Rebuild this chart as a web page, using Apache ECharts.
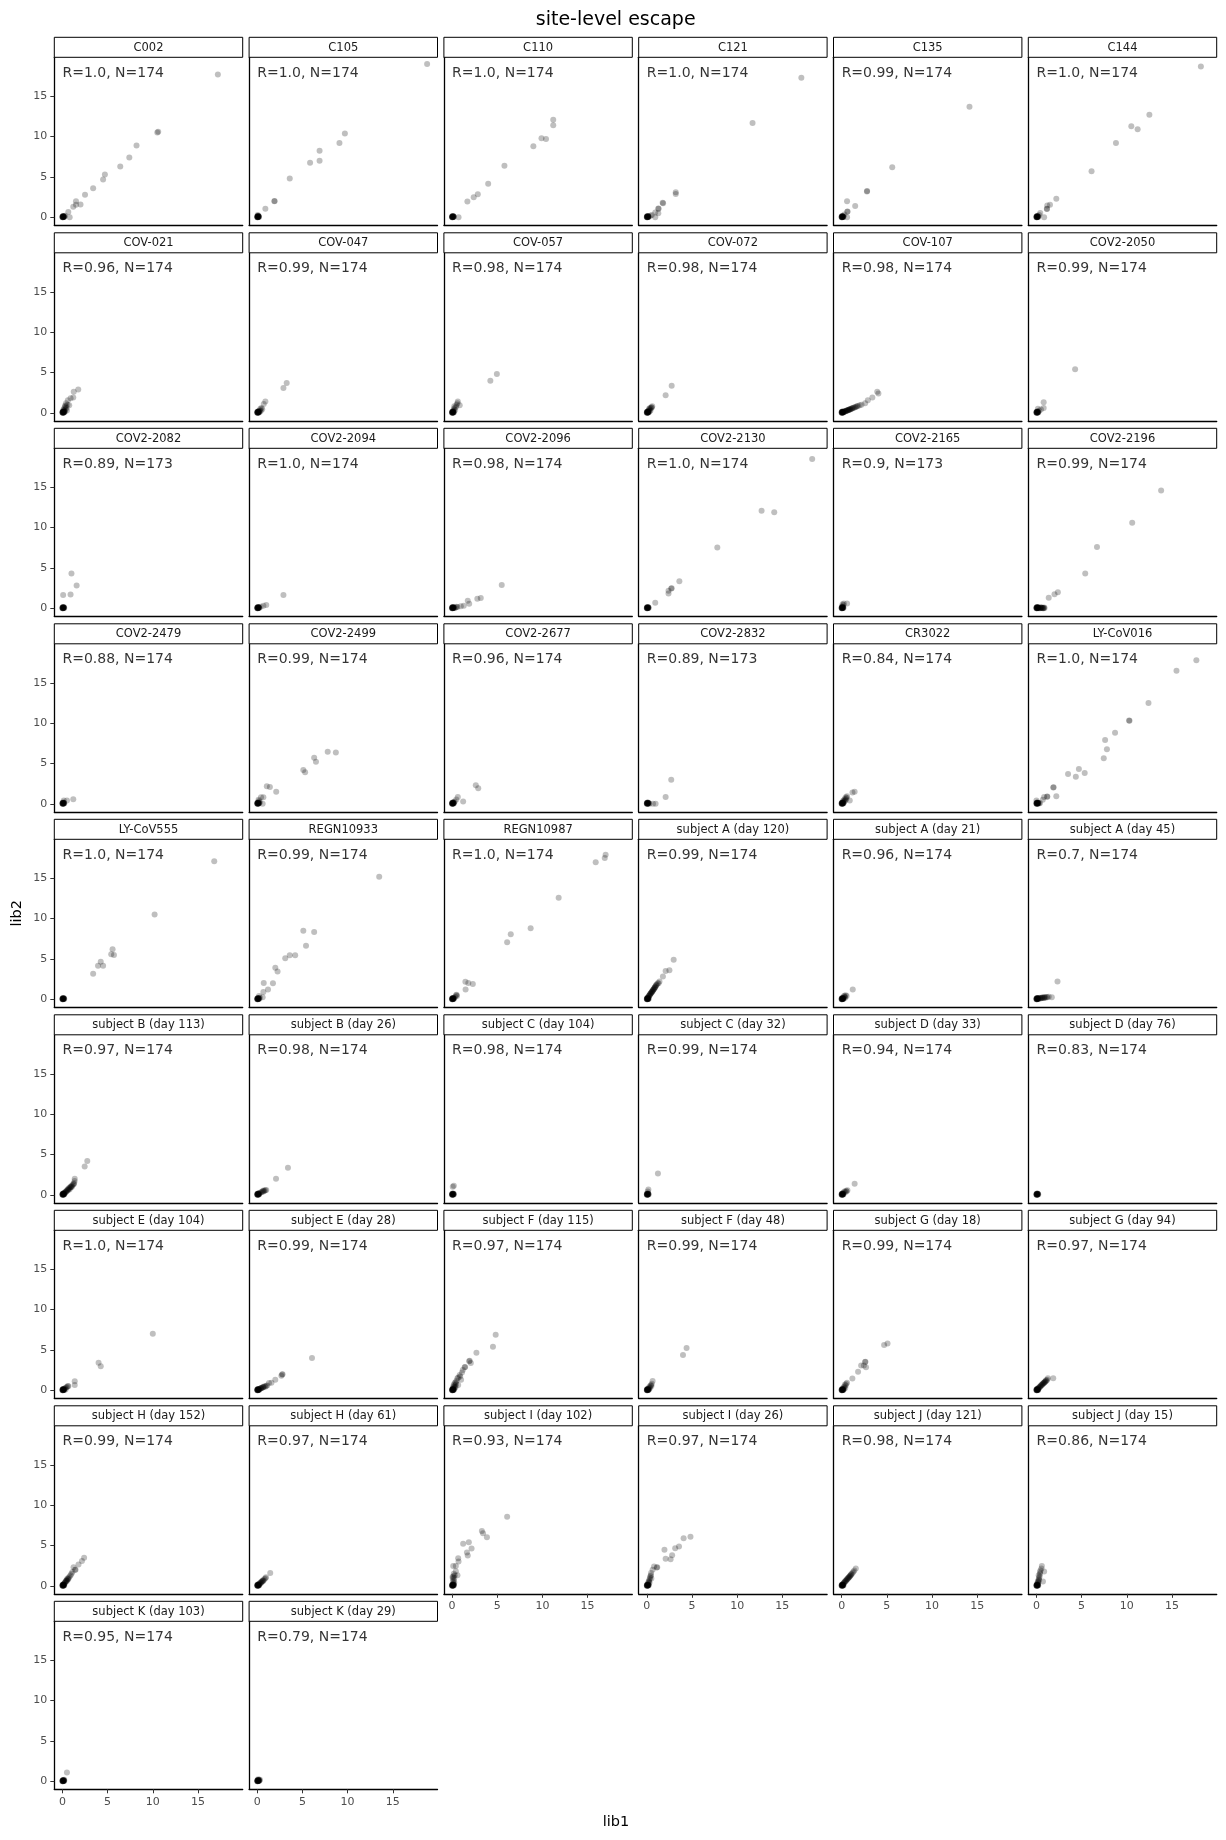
<!DOCTYPE html>
<html>
<head>
<meta charset="utf-8">
<script src="https://cdn.jsdelivr.net/npm/echarts@6/dist/echarts.min.js"></script>
<style>html,body{margin:0;padding:0;background:#fff}#chart{width:1226px;height:1840px}</style>
</head>
<body>
<div id="chart"></div>
<script>
// ---------- data ----------
const panelNames = [
 'C002','C105','C110','C121','C135','C144',
 'COV-021','COV-047','COV-057','COV-072','COV-107','COV2-2050',
 'COV2-2082','COV2-2094','COV2-2096','COV2-2130','COV2-2165','COV2-2196',
 'COV2-2479','COV2-2499','COV2-2677','COV2-2832','CR3022','LY-CoV016',
 'LY-CoV555','REGN10933','REGN10987','subject A (day 120)','subject A (day 21)','subject A (day 45)',
 'subject B (day 113)','subject B (day 26)','subject C (day 104)','subject C (day 32)','subject D (day 33)','subject D (day 76)',
 'subject E (day 104)','subject E (day 28)','subject F (day 115)','subject F (day 48)','subject G (day 18)','subject G (day 94)',
 'subject H (day 152)','subject H (day 61)','subject I (day 102)','subject I (day 26)','subject J (day 121)','subject J (day 15)',
 'subject K (day 103)','subject K (day 29)'
];
const rValues = [
 '1.0','1.0','1.0','1.0','0.99','1.0',
 '0.96','0.99','0.98','0.98','0.98','0.99',
 '0.89','1.0','0.98','1.0','0.9','0.99',
 '0.88','0.99','0.96','0.89','0.84','1.0',
 '1.0','0.99','1.0','0.99','0.96','0.7',
 '0.97','0.98','0.98','0.99','0.94','0.83',
 '1.0','0.99','0.97','0.99','0.99','0.97',
 '0.99','0.97','0.93','0.97','0.98','0.86',
 '0.95','0.79'
];
const nValues = [
 174,174,174,174,174,174,
 174,174,174,174,174,174,
 173,174,174,174,173,174,
 174,174,174,173,174,174,
 174,174,174,174,174,174,
 174,174,174,174,174,174,
 174,174,174,174,174,174,
 174,174,174,174,174,174,
 174,174
];
const xTicks = [0,5,10,15];
const yTicks = [0,5,10,15];

// sites with near-zero escape in both libraries (shared dense cluster at origin)
const originCluster = [[0,0],[0.03,0.02],[0.06,0.05],[0.1,0.03],[0.12,0.08],[0.04,0.09],[0.08,0.12],[0.15,0.06],[0.02,0.14],[0.1,0.15],[0.14,0.13],[0,0.06],[0.07,0],[0.05,0.05],[0.18,0.1],[0.2,0.04]];

const p_C002 = [[17.2,17.7],[10.6,10.6],[10.5,10.5],[8.2,8.9],[7.4,7.4],[6.4,6.3],[4.7,5.3],[4.5,4.7],[3.4,3.6],[2.5,2.8],[1.5,2.0],[2.0,1.6],[1.2,1.3],[1.5,1.55],[0.65,0.66],[0.8,0.0],[0.3,0.2]];
const p_C105 = [[18.8,19.0],[9.7,10.4],[9.1,9.2],[6.9,8.25],[6.9,7.0],[5.85,6.75],[3.6,4.8],[1.9,2.0],[1.92,2.02],[0.9,1.05],[0.05,0.28],[0.1,0.2]];
const p_C110 = [[11.2,12.1],[11.2,11.4],[9.9,9.8],[10.4,9.7],[9.0,8.8],[5.8,6.4],[4.0,4.15],[2.85,2.85],[2.4,2.5],[1.7,1.95],[0.72,0.0]];
const p_C121 = [[17.1,17.3],[11.7,11.7],[3.2,3.1],[3.2,2.9],[1.8,1.75],[1.75,1.8],[1.27,1.1],[1.3,1.05],[0.93,0.6],[1.27,0.5],[0.93,0.0],[0.55,0.3],[0.4,0.2]];
const p_C135 = [[14.15,13.7],[5.6,6.2],[2.8,3.2],[2.82,3.25],[1.5,1.4],[0.6,2.0],[0.63,0.7],[0.65,0.72],[0.3,0.35],[0.6,0.0]];
const p_C144 = [[18.2,18.7],[12.5,12.7],[10.5,11.3],[11.2,10.9],[8.8,9.2],[6.1,5.7],[2.2,2.3],[1.5,1.55],[1.2,1.45],[1.15,1.05],[1.17,1.02],[0.42,0.52],[0.85,0.0],[0.3,0.3]];
const p_COV021 = [[1.75,2.9],[1.25,2.6],[1.2,1.9],[0.9,1.8],[0.6,1.55],[0.75,0.95],[0.4,1.2],[0.3,0.9],[0.25,0.7],[0.45,0.6],[0.35,0.4],[0.2,0.5],[0.15,0.3],[0.3,0.2],[0.5,0.3],[0.2,0.15],[0.1,0.35],[0.4,0.8],[0.55,1.0]];
const p_COV047 = [[3.26,3.68],[2.9,3.07],[0.9,1.4],[0.72,1.08],[0.47,0.6],[0.55,0.45],[0.35,0.5],[0.25,0.3],[0.4,0.25],[0.15,0.2],[0.3,0.15]];
const p_COV057 = [[4.96,4.8],[4.24,3.96],[0.64,1.4],[0.85,0.95],[0.5,1.0],[0.45,0.75],[0.3,0.6],[0.2,0.45],[0.35,0.35],[0.15,0.25],[0.6,1.2],[0.25,0.8]];
const p_COV072 = [[2.75,3.35],[2.08,2.17],[0.6,0.8],[0.5,0.7],[0.45,0.55],[0.35,0.6],[0.3,0.4],[0.25,0.5],[0.2,0.3],[0.4,0.3],[0.15,0.2],[0.55,0.65],[0.3,0.2]];
const p_COV107 = [[4.07,2.4],[3.94,2.6],[3.4,1.9],[2.9,1.55],[2.6,1.2],[2.0,0.94],[2.2,1.0],[1.8,0.85],[1.6,0.75],[1.5,0.7],[1.3,0.62],[1.2,0.58],[1.1,0.5],[1.0,0.45],[0.9,0.42],[0.8,0.38],[0.7,0.33],[0.6,0.3],[0.5,0.25],[0.45,0.2],[0.35,0.18],[0.3,0.15],[0.25,0.1],[1.7,0.8],[1.4,0.66],[0.95,0.48],[0.75,0.35],[0.55,0.28],[1.15,0.55],[0.85,0.4],[0.65,0.3],[0.4,0.2]];
const p_COV2050 = [[4.28,5.4],[0.8,1.3],[0.8,0.6],[0.17,0.5],[0.3,0.25],[0.5,0.4]];
const p_COV2082 = [[1.0,4.3],[1.57,2.83],[0.9,1.7],[0.08,1.65]];
const p_COV2094 = [[2.9,1.65],[1.0,0.42],[0.68,0.33],[0.38,0.19],[0.2,0.1]];
const p_COV2096 = [[5.5,2.88],[3.18,1.27],[2.8,1.18],[1.74,0.94],[1.9,0.57],[1.3,0.33],[0.97,0.24],[0.6,0.15],[0.4,0.1],[0.3,0.05],[0.5,0.2]];
const p_COV2130 = [[18.3,18.5],[12.7,12.1],[14.1,11.9],[7.8,7.55],[3.6,3.35],[2.7,2.45],[2.75,2.5],[2.4,2.17],[2.4,1.84],[0.93,0.7]];
const p_COV2165 = [[0.6,0.6],[0.25,0.6],[0.08,0.24],[0.2,0.4],[0.1,0.5]];
const p_COV2196 = [[13.8,14.6],[10.6,10.6],[6.7,7.6],[5.4,4.3],[2.37,2.0],[2.0,1.75],[1.36,1.32],[0.9,0.05],[0.7,0.0],[0.5,0.1],[0.35,0.05],[0.6,0.1],[0.8,0.0],[0.25,0.0],[0.4,0.0],[0.55,0.05],[0.75,0.05],[0.2,0.1],[0.45,0.1],[0.65,0.05],[0.85,0.1]];
const p_COV2479 = [[1.2,0.57],[0.5,0.42],[0.15,0.42]];
const p_COV2499 = [[8.7,6.37],[7.8,6.46],[6.3,5.7],[6.5,5.2],[5.1,4.2],[5.3,3.9],[1.06,2.17],[1.4,2.07],[2.1,1.5],[0.68,0.8],[0.42,0.8],[0.6,0.0],[0.2,0.35],[0.3,0.2],[0.15,0.5]];
const p_COV2677 = [[2.63,2.3],[2.9,1.93],[0.64,0.85],[0.47,0.52],[1.23,0.28],[0.3,0.3],[0.2,0.2]];
const p_COV2832 = [[2.7,2.97],[2.08,0.85],[0.97,0.0],[0.68,0.0],[0.3,0.0]];
const p_CR3022 = [[1.44,1.5],[1.2,1.4],[0.9,0.42],[0.6,0.94],[0.45,0.8],[0.35,0.6],[0.5,0.55],[0.25,0.45],[0.3,0.3],[0.15,0.35],[0.4,0.4],[0.2,0.2],[0.55,0.75]];
const p_LYCoV016 = [[17.7,17.8],[15.5,16.5],[12.4,12.5],[10.25,10.33],[10.3,10.3],[8.7,8.8],[7.6,7.9],[7.8,6.75],[7.45,5.66],[5.34,3.82],[4.7,4.3],[4.36,3.35],[3.5,3.7],[1.86,2.03],[1.9,2.05],[2.2,0.94],[1.19,0.9],[1.2,0.88],[0.85,0.85],[0.7,0.5],[0.0,0.4],[0.4,0.1],[0.3,0.05],[0.2,0.1]];
const p_LYCoV555 = [[16.8,17.1],[10.2,10.5],[5.55,6.2],[5.7,5.5],[5.4,5.57],[4.24,4.67],[3.94,4.15],[4.5,4.15],[3.4,3.16]];
const p_REGN10933 = [[13.5,15.2],[5.1,8.5],[6.3,8.35],[5.4,6.65],[3.1,5.1],[3.6,5.47],[4.2,5.47],[2.0,3.9],[2.25,3.44],[0.72,2.03],[1.74,1.98],[1.19,1.23],[0.68,0.9],[0.6,0.24],[0.2,0.4],[0.3,0.2]];
const p_REGN10987 = [[17.0,17.9],[16.9,17.5],[15.9,17.0],[11.8,12.6],[8.7,8.8],[6.5,8.07],[6.1,7.08],[1.48,2.17],[1.8,2.03],[2.3,1.9],[1.5,1.23],[0.5,0.57],[0.45,0.5],[0.35,0.3],[0.2,0.2],[0.55,0.4]];
const p_A120 = [[2.97,4.9],[2.5,3.6],[2.08,3.5],[1.78,2.83],[1.3,1.98],[1.1,1.84],[1.0,1.7],[0.95,1.55],[0.9,1.5],[0.85,1.4],[0.8,1.3],[0.75,1.25],[0.7,1.15],[0.65,1.05],[0.6,1.0],[0.55,0.9],[0.5,0.85],[0.45,0.75],[0.4,0.7],[0.35,0.6],[0.3,0.5],[0.25,0.45],[0.2,0.35],[0.15,0.25],[0.1,0.2],[1.05,1.75],[0.88,1.45],[0.72,1.2],[0.58,0.95],[0.42,0.72],[0.28,0.48],[1.2,2.0],[1.4,2.2]];
const p_A21 = [[1.23,1.23],[0.55,0.42],[0.45,0.5],[0.35,0.3],[0.25,0.35],[0.4,0.2],[0.2,0.15],[0.3,0.45]];
const p_A45 = [[2.33,2.2],[1.7,0.24],[1.36,0.33],[1.2,0.25],[1.0,0.2],[0.9,0.3],[0.8,0.15],[0.7,0.25],[0.6,0.2],[0.5,0.15],[0.4,0.2],[0.3,0.1],[0.2,0.15],[1.1,0.3],[0.85,0.2],[0.65,0.15],[0.45,0.1]];
const p_B113 = [[2.75,4.2],[2.46,3.5],[1.36,2.0],[1.3,1.46],[1.35,1.7],[1.2,1.35],[1.1,1.2],[1.0,1.1],[0.9,1.0],[0.85,0.9],[0.75,0.85],[0.7,0.75],[0.6,0.7],[0.55,0.6],[0.5,0.5],[0.4,0.45],[0.35,0.35],[0.3,0.3],[0.2,0.25],[0.15,0.15],[1.25,1.3],[0.95,0.95],[0.65,0.6],[0.45,0.4],[0.8,0.7],[1.05,1.0],[0.25,0.2]];
const p_B26 = [[3.4,3.35],[2.08,1.98],[0.68,0.52],[0.9,0.55],[1.0,0.6],[0.8,0.5],[0.6,0.45],[0.5,0.35],[0.4,0.3],[0.3,0.25],[0.2,0.15],[0.7,0.4]];
const p_C104 = [[0.2,1.13],[0.08,1.0]];
const p_C32 = [[1.23,2.64],[0.17,0.66],[0.1,0.4]];
const p_D33 = [[1.44,1.37],[0.64,0.57],[0.5,0.5],[0.4,0.35],[0.3,0.4],[0.2,0.25],[0.55,0.4]];
const p_D76 = [];
const p_E104 = [[10.0,7.0],[4.0,3.43],[4.24,2.98],[1.36,1.12],[1.36,0.66],[0.6,0.54],[0.65,0.5],[0.5,0.4],[0.4,0.35],[0.3,0.25],[0.2,0.2],[0.35,0.1]];
const p_E28 = [[6.06,4.0],[2.8,2.0],[2.75,1.95],[2.67,1.82],[2.0,1.32],[1.57,0.95],[1.3,0.9],[0.9,0.45],[1.1,0.6],[0.8,0.5],[0.7,0.4],[0.6,0.35],[0.5,0.3],[0.4,0.25],[0.3,0.2],[0.2,0.12],[1.0,0.55],[0.65,0.42],[0.45,0.28],[0.35,0.22]];
const p_F115 = [[4.83,6.9],[4.53,5.4],[2.7,4.67],[1.9,3.6],[1.95,3.65],[2.08,3.39],[1.4,2.85],[1.45,2.9],[1.19,2.52],[0.85,1.9],[1.0,1.32],[0.68,0.66],[0.5,1.2],[0.4,1.0],[0.45,0.8],[0.3,0.9],[0.35,0.6],[0.2,0.7],[0.25,0.45],[0.15,0.5],[0.3,0.3],[0.1,0.3],[0.6,1.5],[0.7,1.6],[0.2,0.2],[0.4,0.4],[1.1,2.2],[0.9,1.7]];
const p_F48 = [[4.4,5.25],[4.0,4.38],[0.64,1.16],[0.47,0.66],[0.55,0.8],[0.4,0.55],[0.3,0.45],[0.35,0.3],[0.2,0.3],[0.25,0.15],[0.5,0.5]];
const p_G18 = [[5.08,5.8],[4.7,5.6],[2.63,3.55],[2.6,3.5],[2.46,3.06],[2.7,2.85],[2.16,3.06],[1.82,2.3],[1.19,1.45],[0.6,0.95],[0.5,0.8],[0.45,0.6],[0.35,0.7],[0.3,0.45],[0.2,0.35],[0.4,0.3],[0.25,0.2]];
const p_G94 = [[1.86,1.49],[1.27,1.49],[1.2,1.3],[1.1,1.2],[1.0,1.1],[0.9,1.0],[0.8,0.9],[0.7,0.8],[0.6,0.7],[0.5,0.6],[0.45,0.5],[0.35,0.4],[0.3,0.35],[0.2,0.25],[0.15,0.15],[1.05,1.25],[0.85,0.95],[0.65,0.72],[0.55,0.62],[0.4,0.45],[0.25,0.3],[0.95,1.05],[0.75,0.85]];
const p_H152 = [[2.4,3.47],[2.16,3.06],[1.78,2.64],[1.23,2.3],[1.4,1.98],[1.45,2.0],[0.9,1.32],[0.47,0.7],[0.6,0.8],[0.7,1.0],[0.55,0.9],[0.4,0.6],[0.35,0.5],[0.3,0.4],[0.2,0.3],[0.15,0.2],[0.5,0.6],[0.45,0.7],[0.8,1.15],[1.0,1.5],[1.1,1.7],[0.25,0.35],[0.65,0.85]];
const p_H61 = [[1.44,1.6],[0.97,1.07],[0.9,0.95],[0.8,0.85],[0.7,0.7],[0.6,0.65],[0.5,0.5],[0.45,0.45],[0.35,0.4],[0.3,0.3],[0.2,0.25],[0.55,0.55],[0.4,0.35],[0.25,0.2],[0.65,0.6]];
const p_I102 = [[6.1,8.55],[3.3,6.78],[3.43,6.5],[3.86,6.03],[1.23,5.2],[1.86,5.4],[2.16,4.63],[1.65,4.13],[1.74,3.76],[0.68,3.43],[0.72,3.0],[0.13,2.44],[0.42,2.44],[0.42,1.82],[0.6,1.32],[0.2,1.5],[0.15,1.2],[0.25,1.0],[0.1,0.9],[0.2,0.7],[0.1,0.5],[0.25,0.4],[0.15,0.3],[0.05,1.1],[0.3,1.3],[0.2,0.2]];
const p_I26 = [[4.83,6.07],[4.07,5.9],[3.56,4.88],[3.14,4.67],[1.95,4.46],[2.8,3.8],[2.63,3.3],[2.08,3.35],[1.1,2.27],[1.15,2.3],[0.8,2.4],[0.64,1.98],[0.47,1.6],[0.4,1.2],[0.35,1.0],[0.3,0.8],[0.25,0.6],[0.2,0.5],[0.15,0.35],[0.3,0.4],[0.45,1.3],[0.2,0.2],[0.5,0.9]];
const p_J121 = [[1.57,2.15],[1.3,1.73],[1.4,1.9],[1.2,1.6],[1.1,1.45],[1.0,1.3],[0.9,1.2],[0.8,1.05],[0.7,0.95],[0.6,0.8],[0.5,0.65],[0.45,0.6],[0.35,0.5],[0.3,0.4],[0.2,0.3],[0.15,0.2],[1.05,1.4],[0.85,1.1],[0.65,0.85],[0.55,0.75],[0.4,0.55],[0.25,0.35],[0.95,1.25],[0.75,1.0]];
const p_J15 = [[0.6,2.44],[0.55,2.15],[0.85,1.78],[0.45,1.9],[0.72,0.54],[0.4,1.5],[0.35,1.2],[0.3,1.0],[0.25,0.8],[0.2,0.6],[0.15,0.5],[0.3,0.7],[0.1,0.3],[0.2,0.4],[0.4,1.7],[0.25,1.3]];
const p_K103 = [[0.5,1.1],[0.2,0.2]];
const p_K29 = [[0.2,0.2],[0.25,0.1],[0.1,0.25],[0.3,0.2]];

const panelPoints = [
 p_C002,p_C105,p_C110,p_C121,p_C135,p_C144,
 p_COV021,p_COV047,p_COV057,p_COV072,p_COV107,p_COV2050,
 p_COV2082,p_COV2094,p_COV2096,p_COV2130,p_COV2165,p_COV2196,
 p_COV2479,p_COV2499,p_COV2677,p_COV2832,p_CR3022,p_LYCoV016,
 p_LYCoV555,p_REGN10933,p_REGN10987,p_A120,p_A21,p_A45,
 p_B113,p_B26,p_C104,p_C32,p_D33,p_D76,
 p_E104,p_E28,p_F115,p_F48,p_G18,p_G94,
 p_H152,p_H61,p_I102,p_I26,p_J121,p_J15,
 p_K103,p_K29
];

// ---------- layout ----------
const NCOL = 6;
const colLeft0 = 54.3, colStep = 194.8, panelW = 188.4;
const rowTop0 = 57.3, rowStep = 195.5, panelH = 168, stripH = 20;
const xRange = [-0.9, 19.95], yRange = [-0.99, 19.83];
const FONT = '"DejaVu Sans", sans-serif';
const nPanels = panelNames.length;
const nRows = Math.ceil(nPanels / NCOL);

const grids = [], xAxes = [], yAxes = [], series = [], graphics = [];
for (let i = 0; i < nPanels; i++) {
  const c = i % NCOL, r = Math.floor(i / NCOL);
  const left = colLeft0 + c * colStep, top = rowTop0 + r * rowStep;
  const isBottom = (i + NCOL >= nPanels);
  const isLeft = c === 0;
  grids.push({left: left, top: top, width: panelW, height: panelH, containLabel: false, outerBoundsMode: 'none'});
  xAxes.push({
    gridIndex: i, type: 'value', min: xRange[0], max: xRange[1],
    axisLine: {show: true, onZero: false, lineStyle: {color: '#000', width: 1.3}},
    axisTick: {show: isBottom, customValues: xTicks, length: 4, lineStyle: {color: '#333', width: 1}},
    axisLabel: {show: isBottom, customValues: xTicks, color: '#4d4d4d', fontSize: 11, fontFamily: FONT, margin: 7},
    splitLine: {show: false}
  });
  yAxes.push({
    gridIndex: i, type: 'value', min: yRange[0], max: yRange[1],
    axisLine: {show: true, onZero: false, lineStyle: {color: '#000', width: 1.3}},
    axisTick: {show: isLeft, customValues: yTicks, length: 4, lineStyle: {color: '#333', width: 1}},
    axisLabel: {show: isLeft, customValues: yTicks, color: '#4d4d4d', fontSize: 11, fontFamily: FONT, margin: 7},
    splitLine: {show: false}
  });
  series.push({
    type: 'scatter', xAxisIndex: i, yAxisIndex: i,
    data: originCluster.concat(panelPoints[i]),
    symbol: 'circle', symbolSize: 6,
    itemStyle: {color: '#000', opacity: 0.25},
    silent: true, animation: false
  });
  series.push({
    type: 'scatter', xAxisIndex: i, yAxisIndex: i,
    data: [[0, 17.85]], symbolSize: 0, silent: true, animation: false,
    label: {show: true, position: 'right', distance: 0,
      formatter: 'R=' + rValues[i] + ', N=' + nValues[i],
      color: '#000', fontSize: 14, fontFamily: FONT}
  });
  const stripTop = top - stripH;
  graphics.push({type: 'rect', shape: {x: left, y: stripTop, width: panelW, height: stripH},
    style: {fill: '#fff', stroke: '#000', lineWidth: 1}, z: 10});
  graphics.push({type: 'text', z: 11, style: {text: panelNames[i], x: left + panelW / 2, y: stripTop + stripH / 2 + 0.5,
    fill: '#1a1a1a', fontSize: 11.5, fontFamily: FONT, align: 'center', verticalAlign: 'middle'}});
}
const plotBottom = rowTop0 + (nRows - 1) * rowStep + panelH;
graphics.push({type: 'text', style: {text: 'site-level escape', x: 615.7, y: 20, fill: '#000',
  fontSize: 19, fontFamily: FONT, align: 'center', verticalAlign: 'middle'}});
graphics.push({type: 'text', style: {text: 'lib1', x: 616, y: 1822.5, fill: '#000',
  fontSize: 14.5, fontFamily: FONT, align: 'center', verticalAlign: 'middle'}});
graphics.push({type: 'text', x: 17, y: (rowTop0 - stripH + plotBottom) / 2, rotation: Math.PI / 2,
  style: {text: 'lib2', x: 0, y: 0, fill: '#000', fontSize: 14.5, fontFamily: FONT, align: 'center', verticalAlign: 'middle'}});

const chart = echarts.init(document.getElementById('chart'), null, {renderer: 'canvas'});
chart.setOption({
  animation: false,
  backgroundColor: '#fff',
  grid: grids, xAxis: xAxes, yAxis: yAxes, series: series, graphic: graphics
});
</script>
</body>
</html>
